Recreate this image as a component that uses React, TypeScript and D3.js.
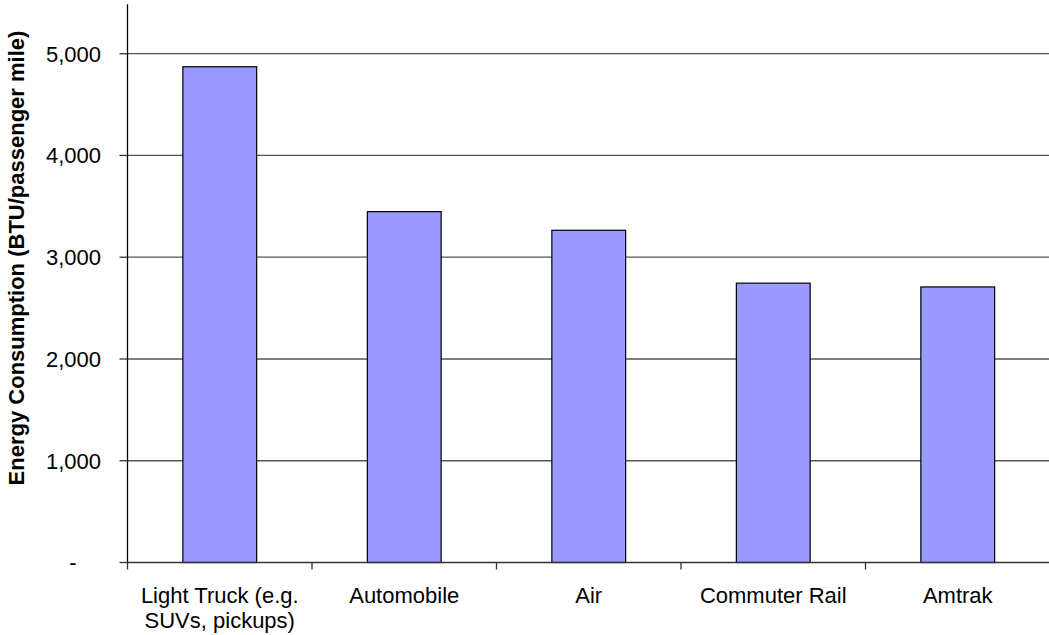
import * as d3 from "d3";

const categories = ["Light Truck (e.g.|SUVs, pickups)", "Automobile", "Air", "Commuter Rail", "Amtrak"];
const energy = [4872, 3448, 3265, 2745, 2708];
const yTicks = [0, 1000, 2000, 3000, 4000, 5000];
const yTitle = "Energy Consumption (BTU/passenger mile)";

const W = 1049;
const H = 635;
const left = 127.5;
const right = 1050;
const bottom = 562.5;
const font = "'Liberation Sans', Arial, sans-serif";

const App = () => {
  const x = d3.scaleBand<string>().domain(categories).range([left, right]);
  const y = d3.scaleLinear().domain([0, 5000]).range([bottom, 53.7]);
  const barW = x.bandwidth() / 2.5;
  const fmt = d3.format(",");

  return (
    <svg
      width={W}
      height={H}
      style={{ position: "absolute", left: 0, top: 0, background: "#fff" }}
      fontFamily={font}
    >
      {/* gridlines */}
      {yTicks.slice(1).map((t) => (
        <line key={t} x1={left} x2={right} y1={y(t)} y2={y(t)} stroke="#555" strokeWidth={1.3} />
      ))}
      {/* bars */}
      {categories.map((c, i) => (
        <rect
          key={c}
          x={(x(c) ?? 0) + (x.bandwidth() - barW) / 2}
          y={y(energy[i])}
          width={barW}
          height={bottom - y(energy[i])}
          fill="#9999ff"
          stroke="#000"
          strokeWidth={1.2}
        />
      ))}
      {/* axes */}
      <line x1={left} x2={left} y1={y(5485)} y2={bottom} stroke="#000" strokeWidth={1.3} />
      <line x1={left} x2={right} y1={bottom} y2={bottom} stroke="#333" strokeWidth={1.3} />
      {yTicks.map((t) => (
        <g key={t}>
          <line x1={left - 8} x2={left} y1={y(t)} y2={y(t)} stroke="#333" strokeWidth={1.3} />
          <text
            x={101}
            y={y(t)}
            dy="0.36em"
            dx={t === 0 ? "-1.112em" : 0}
            textAnchor="end"
            fontSize={22}
            fill="#000"
          >
            {t === 0 ? "-" : fmt(t)}
          </text>
        </g>
      ))}
      {categories.map((c) => (
        <line
          key={c}
          x1={x(c) ?? 0}
          x2={x(c) ?? 0}
          y1={bottom}
          y2={bottom + 7}
          stroke="#333"
          strokeWidth={1.3}
        />
      ))}
      {categories.map((c) => (
        <text key={c} textAnchor="middle" fontSize={22} fill="#000">
          {c.split("|").map((line, j) => (
            <tspan key={j} x={(x(c) ?? 0) + x.bandwidth() / 2} y={603 + j * 25}>
              {line}
            </tspan>
          ))}
        </text>
      ))}
      <text
        transform={`translate(23.5, ${y(2992)}) rotate(-90)`}
        textAnchor="middle"
        fontSize={22}
        fontWeight="bold"
        fill="#000"
      >
        {yTitle}
      </text>
    </svg>
  );
};

export default App;
